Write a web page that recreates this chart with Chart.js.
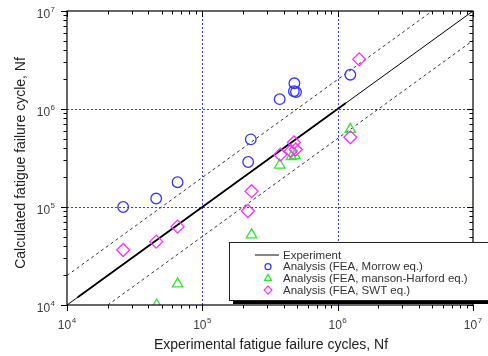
<!DOCTYPE html>
<html>
<head>
<meta charset="utf-8">
<script src="https://cdn.jsdelivr.net/npm/chart.js@4/dist/chart.umd.min.js"></script>
<style>
  html, body { margin: 0; padding: 0; background: #fff; }
  #wrap { width: 488px; height: 356px; }
</style>
</head>
<body>
<div id="wrap"><canvas id="chart" width="488" height="356"></canvas></div>
<script>
// fatigue life: experimental vs calculated cycles
const morrowExp  = [2.6e4, 4.56e4, 6.56e4, 2.18e5, 2.28e5, 3.73e5, 4.79e5, 4.75e5, 4.92e5, 1.24e6];
const morrowCalc = [1.0e5, 1.22e5, 1.79e5, 2.88e5, 4.9e5, 1.26e6, 1.83e6, 1.52e6, 1.49e6, 2.24e6];

const mansonExp  = [4.6e4, 6.56e4, 2.31e5, 3.73e5, 4.82e5, 4.55e5, 1.24e6];
const mansonCalc = [1.0e4, 1.64e4, 5.2e4, 2.68e5, 3.34e5, 3.26e5, 6.2e5];

const swtExp  = [2.6e4, 4.56e4, 6.56e4, 2.17e5, 2.31e5, 3.77e5, 4.75e5, 4.9e5, 4.5e5, 1.24e6, 1.44e6];
const swtCalc = [3.64e4, 4.43e4, 6.3e4, 9.1e4, 1.45e5, 3.42e5, 4.55e5, 3.86e5, 3.73e5, 5.14e5, 3.21e6];

// reference lines: Nf(calc) = Nf(exp), and the factor-of-2 band
const unityLine = [[1e4, 1e4], [1e7, 1e7]];
const unityBold = [[1.2e4, 1.2e4], [1.15e6, 1.15e6]];
const upperBand = [[1e4, 2e4], [5e6, 1e7]];
const lowerBand = [[2e4, 1e4], [1e7, 5e6]];

const tickExponents = [4, 5, 6, 7];
const gridValues = [1e5, 1e6];

const xTitle = 'Experimental fatigue failure cycles, Nf';
const yTitle = 'Calculated fatigue failure cycle, Nf';

const BLUE = '#3434ff', GREEN = '#2ee82e', MAGENTA = '#ff2eff';

const toPoints = (xs, ys) => xs.map((v, i) => ({ x: v, y: ys[i] }));
const pairs = (arr) => arr.map(p => ({ x: p[0], y: p[1] }));

const lineDs = (label, data, width, dash, color, inLegend) => ({
  type: 'line', label, data: pairs(data), borderColor: color, borderWidth: width,
  borderDash: dash, pointRadius: 0, fill: false, tension: 0, order: 10,
  inLegend
});
const pointDs = (label, xs, ys, style, radius, color, order) => ({
  type: 'scatter', label, data: toPoints(xs, ys), pointStyle: style,
  pointRadius: radius, pointBorderColor: color, pointBackgroundColor: 'rgba(0,0,0,0)',
  pointBorderWidth: 1.3, borderColor: color, order, inLegend: true
});

const datasets = [
  lineDs('Experiment', unityLine, 1, [], '#000', true),
  lineDs('', unityBold, 1.8, [], '#000', false),
  lineDs('', upperBand, 1, [3, 3], '#333', false),
  lineDs('', lowerBand, 1, [3, 3], '#333', false),
  pointDs('Analysis (FEA, Morrow eq.)', morrowExp, morrowCalc, 'circle', 5.3, BLUE, 3),
  pointDs('Analysis (FEA, manson-Harford eq.)', mansonExp, mansonCalc, 'triangle', 6, GREEN, 2),
  pointDs('Analysis (FEA, SWT eq.)', swtExp, swtCalc, 'rectRot', 6.5, MAGENTA, 1)
];

function powLabel(ctx, exp, x, y, align) {
  ctx.font = '12px "Liberation Sans", Arial, sans-serif';
  const base = '10';
  const bw = ctx.measureText(base).width;
  ctx.font = '8px "Liberation Sans", Arial, sans-serif';
  const sup = String(exp);
  const sw = ctx.measureText(sup).width;
  const total = bw + sw + 0.5;
  let left = align === 'right' ? x - total : x - total / 2;
  ctx.textAlign = 'left';
  ctx.textBaseline = 'alphabetic';
  ctx.font = '12px "Liberation Sans", Arial, sans-serif';
  ctx.fillText(base, left, y);
  ctx.font = '8px "Liberation Sans", Arial, sans-serif';
  ctx.fillText(sup, left + bw + 0.5, y - 6);
}

const frame = {
  id: 'frame',
  beforeDatasetsDraw(chart) {
    const { ctx, chartArea: a, scales: { x, y } } = chart;
    ctx.save();
    ctx.strokeStyle = '#3a3aff';
    ctx.lineWidth = 1;
    ctx.setLineDash([2, 2]);
    gridValues.forEach(v => {
      const px = Math.round(x.getPixelForValue(v)) + 0.5;
      ctx.beginPath(); ctx.moveTo(px, a.top); ctx.lineTo(px, a.bottom); ctx.stroke();
      const py = Math.round(y.getPixelForValue(v)) + 0.5;
      ctx.beginPath(); ctx.moveTo(a.left, py); ctx.lineTo(a.right, py); ctx.stroke();
    });
    ctx.restore();
  },
  afterDatasetsDraw(chart) {
    const { ctx, chartArea: a, scales: { x, y } } = chart;
    ctx.save();
    ctx.strokeStyle = '#000';
    ctx.lineWidth = 1.2;
    ctx.strokeRect(a.left, a.top, a.right - a.left, a.bottom - a.top);

    // log ticks: out on bottom/left, in on top/right
    ctx.lineWidth = 1;
    const lo = tickExponents[0], hi = tickExponents[tickExponents.length - 1];
    for (let d = lo; d <= hi; d++) {
      for (let m = 1; m <= 9; m++) {
        if (d === hi && m > 1) break;
        const v = m * Math.pow(10, d);
        const len = m === 1 ? 6 : 3.5;
        const px = Math.round(x.getPixelForValue(v)) + 0.5;
        const py = Math.round(y.getPixelForValue(v)) + 0.5;
        ctx.beginPath();
        ctx.moveTo(px, a.bottom); ctx.lineTo(px, a.bottom + len);
        ctx.moveTo(px, a.top); ctx.lineTo(px, a.top + len);
        ctx.moveTo(a.left, py); ctx.lineTo(a.left - len, py);
        ctx.moveTo(a.right, py); ctx.lineTo(a.right - len, py);
        ctx.stroke();
      }
    }

    ctx.fillStyle = '#3c3c3c';
    tickExponents.forEach(e => {
      const v = Math.pow(10, e);
      powLabel(ctx, e, x.getPixelForValue(v), a.bottom + 24, 'center');
      powLabel(ctx, e, a.left - 12, y.getPixelForValue(v) + 6.5, 'right');
    });

    ctx.fillStyle = '#222';
    ctx.font = '14px "Liberation Sans", Arial, sans-serif';
    ctx.textAlign = 'center';
    ctx.textBaseline = 'middle';
    ctx.fillText(xTitle, (a.left + a.right) / 2 + 1, 345);
    ctx.translate(21, (a.top + a.bottom) / 2 + 5);
    ctx.rotate(-Math.PI / 2);
    ctx.fillText(yTitle, 0, 0);
    ctx.restore();
  },
  afterDraw(chart) {
    const { ctx } = chart;
    const bx = 229, by = 242, bw = 264, bh = 58;
    ctx.save();
    ctx.fillStyle = '#000';
    ctx.fillRect(bx + 4, by + 4, bw, bh);
    ctx.fillStyle = '#fff';
    ctx.fillRect(bx, by, bw, bh);
    ctx.strokeStyle = '#222';
    ctx.lineWidth = 1;
    ctx.strokeRect(bx + 0.5, by + 0.5, bw, bh);

    const items = chart.data.datasets.filter(ds => ds.inLegend);
    ctx.textAlign = 'left';
    ctx.textBaseline = 'middle';
    items.forEach((ds, i) => {
      const cy = by + 13 + i * 11.7;
      if (ds.type === 'line') {
        ctx.strokeStyle = '#333';
        ctx.lineWidth = 1.2;
        ctx.beginPath(); ctx.moveTo(255, cy); ctx.lineTo(279, cy); ctx.stroke();
      } else {
        const r = ds.pointStyle === 'circle' ? 3 : 4;
        ctx.fillStyle = 'rgba(0,0,0,0)';
        ctx.strokeStyle = ds.pointBorderColor;
        ctx.lineWidth = 1.2;
        Chart.helpers.drawPoint(ctx, {
          pointStyle: ds.pointStyle, radius: r, borderWidth: 1.2, rotation: 0
        }, 268, cy);
      }
      ctx.fillStyle = '#333';
      ctx.font = '11.5px "Liberation Sans", Arial, sans-serif';
      ctx.fillText(ds.label, 283, cy + 0.5);
    });
    ctx.restore();
  }
};

new Chart(document.getElementById('chart'), {
  type: 'scatter',
  data: { datasets },
  options: {
    responsive: false,
    animation: false,
    devicePixelRatio: 1,
    layout: { padding: { left: 67, top: 11, right: 15, bottom: 51 } },
    plugins: { legend: { display: false }, tooltip: { enabled: false } },
    scales: {
      x: { type: 'logarithmic', min: 1e4, max: 1e7, display: false },
      y: { type: 'logarithmic', min: 1e4, max: 1e7, display: false }
    }
  },
  plugins: [frame]
});
</script>
</body>
</html>
